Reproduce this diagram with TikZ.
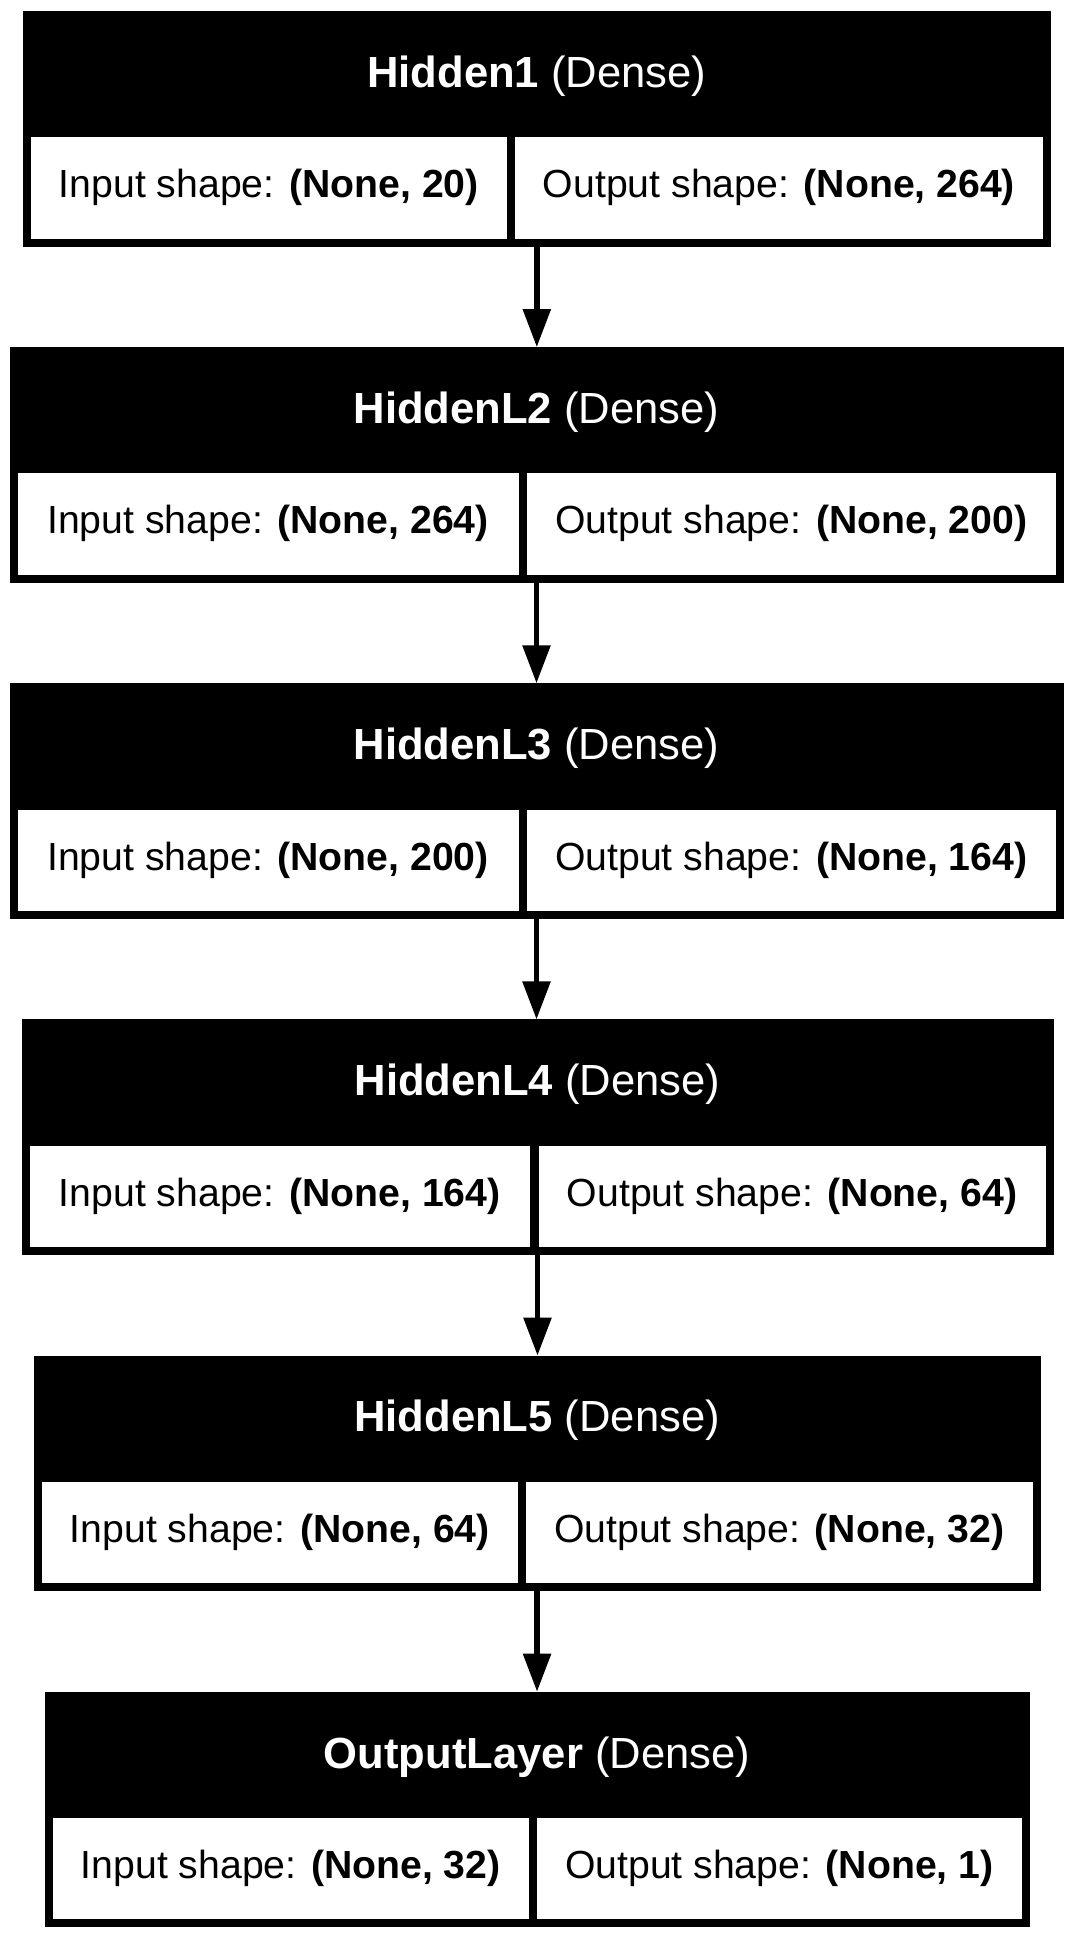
\documentclass[tikz,border=0pt]{standalone}
\usepackage{fontspec}
\setmainfont{Liberation Sans}
\usetikzlibrary{arrows.meta}
\tikzset{
  outerbox/.style={fill=black, inner sep=0pt, outer sep=0pt, anchor=north west, minimum height=117.85pt},
  cellbox/.style={fill=white, inner sep=0pt, outer sep=0pt, anchor=north west, minimum height=50.7pt,
    text height=14pt, text depth=4.3pt, font=\fontsize{19.6}{23}\selectfont},
  titletext/.style={text=white, anchor=base, inner sep=0pt, font=\fontsize{21.8}{25}\selectfont},
  flow/.style={line width=2.8pt, -{Triangle[length=19pt,width=13.5pt]}}
}
\newcommand\mylayer[9]{%
  \node[outerbox, minimum width={(#4-#3)*0.5pt}] (#1) at (#3,#2) {};
  \node[titletext] (#1t) at ({(#3+#4)/2},{#2+76.3}) {#7};
  \node[cellbox, minimum width={(#5-#3-8)*0.5pt}] (#1i) at ({#3+8},{#2+126.3}) {Input shape: \textbf{#8}};
  \node[cellbox, minimum width={(#4-8-#6)*0.5pt}] (#1o) at (#6,{#2+126.3}) {Output shape: \textbf{#9}};
}
\begin{document}
\begin{tikzpicture}[x=0.5pt, y=-0.5pt]
  \fill[white] (0,0) rectangle (1072,1939);
  \useasboundingbox (0,0) rectangle (1072,1939);
  \mylayer{L1}{11}{22.6}{1051}{507}{515}{\textbf{Hidden1} (Dense)}{(None, 20)}{(None, 264)}
  \mylayer{L2}{347.1}{9.5}{1063.5}{518.5}{527}{\textbf{HiddenL2} (Dense)}{(None, 264)}{(None, 200)}
  \mylayer{L3}{683.3}{9.5}{1063.5}{518.5}{527}{\textbf{HiddenL3} (Dense)}{(None, 200)}{(None, 164)}
  \mylayer{L4}{1019.4}{21.5}{1053.5}{530}{538.5}{\textbf{HiddenL4} (Dense)}{(None, 164)}{(None, 64)}
  \mylayer{L5}{1355.6}{33.6}{1040.5}{518}{526}{\textbf{HiddenL5} (Dense)}{(None, 64)}{(None, 32)}
  \mylayer{L6}{1691.7}{44.5}{1029.5}{529}{537}{\textbf{OutputLayer} (Dense)}{(None, 32)}{(None, 1)}
  \draw[flow] (L1.south) -- (L1.south |- L2.north);
  \draw[flow] (L2.south) -- (L2.south |- L3.north);
  \draw[flow] (L3.south) -- (L3.south |- L4.north);
  \draw[flow] (L4.south) -- (L4.south |- L5.north);
  \draw[flow] (L5.south) -- (L5.south |- L6.north);
\end{tikzpicture}
\end{document}
